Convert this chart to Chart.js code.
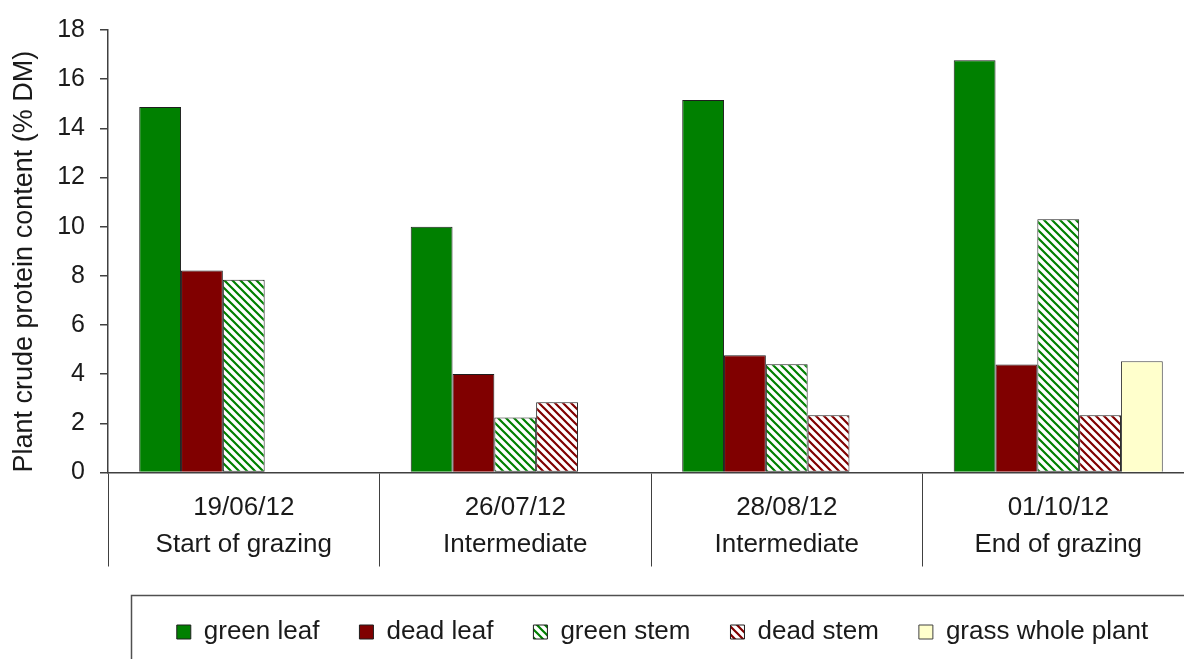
<!DOCTYPE html>
<html>
<head>
<meta charset="utf-8">
<script src="https://cdn.jsdelivr.net/npm/chart.js@4"></script>
<style>
  html, body { margin: 0; padding: 0; background: #ffffff; overflow: hidden; width: 1184px; height: 659px; }
  canvas { display: block; }
</style>
</head>
<body>
<canvas id="c" width="1325" height="659"></canvas>
<script>
// ---- data ----
const dates  = ['19/06/12', '26/07/12', '28/08/12', '01/10/12'];
const stages = ['Start of grazing', 'Intermediate', 'Intermediate', 'End of grazing'];
const seriesNames = ['green leaf', 'dead leaf', 'green stem', 'dead stem', 'grass whole plant'];
const greenLeaf  = [14.87, 10.0, 15.15, 16.77];
const deadLeaf   = [8.22, 4.01, 4.77, 4.39];
const greenStem  = [7.84, 2.24, 4.40, 10.30];
const deadStem   = [null, 2.86, 2.33, 2.33];
const grassWhole = [null, null, null, 4.53];
const yTicks = [0, 2, 4, 6, 8, 10, 12, 14, 16, 18];

// ---- helpers ----
function hatch(color) {
  const s = 8;
  const cv = document.createElement('canvas');
  cv.width = s; cv.height = s;
  const g = cv.getContext('2d');
  g.fillStyle = '#ffffff';
  g.fillRect(0, 0, s, s);
  g.strokeStyle = color;
  g.lineWidth = 2.2;
  g.beginPath();
  for (let k = -1; k <= 1; k++) {
    g.moveTo(k * s - 1, -1);
    g.lineTo(k * s + s + 1, s + 1);
  }
  g.stroke();
  return g.createPattern(cv, 'repeat');
}

const GREEN = '#008000';
const DARKRED = '#800000';
const CREAM = '#FFFFCC';
const EDGE = '#1e1e1e';
const AXIS = '#404040';
const FONT = "'Liberation Sans', Arial, sans-serif";

Chart.defaults.font.family = FONT;
Chart.defaults.color = '#1a1a1a';

const legendFrame = {
  id: 'legendFrame',
  afterDraw(chart) {
    const lg = chart.legend;
    const ctx = chart.ctx;
    ctx.save();
    ctx.strokeStyle = '#505050';
    ctx.lineWidth = 1.5;
    ctx.strokeRect(131.5, lg.top + 16.5, 1400, 200);
    ctx.restore();
  }
};

new Chart(document.getElementById('c'), {
  type: 'bar',
  data: {
    labels: dates.map((d, i) => [d, stages[i]]),
    datasets: [
      { label: seriesNames[0], data: greenLeaf,  backgroundColor: GREEN,           borderColor: EDGE, borderWidth: 1 },
      { label: seriesNames[1], data: deadLeaf,   backgroundColor: DARKRED,         borderColor: EDGE, borderWidth: 1 },
      { label: seriesNames[2], data: greenStem,  backgroundColor: hatch(GREEN),    borderColor: EDGE, borderWidth: 1, borderSkipped: false },
      { label: seriesNames[3], data: deadStem,   backgroundColor: hatch(DARKRED),  borderColor: EDGE, borderWidth: 1, borderSkipped: false },
      { label: seriesNames[4], data: grassWhole, backgroundColor: CREAM,           borderColor: '#404040', borderWidth: 1 }
    ]
  },
  options: {
    responsive: false,
    animation: false,
    devicePixelRatio: 1,
    layout: { padding: { top: 29, left: 0, right: 0, bottom: 4 } },
    datasets: { bar: { categoryPercentage: 0.77, barPercentage: 1.0 } },
    plugins: {
      tooltip: { enabled: false },
      legend: {
        position: 'bottom',
        align: 'center',
        labels: {
          boxWidth: 14,
          boxHeight: 14,
          padding: 40,
          color: '#1a1a1a',
          font: { size: 26, family: FONT }
        }
      }
    },
    scales: {
      x: {
        offset: true,
        grid: {
          offset: true,
          drawOnChartArea: false,
          drawTicks: true,
          tickLength: 94,
          color: AXIS,
          lineWidth: 1
        },
        border: { display: true, color: AXIS, width: 1.5 },
        ticks: {
          autoSkip: false,
          maxRotation: 0,
          minRotation: 0,
          padding: -77,
          color: '#1a1a1a',
          font: { size: 26, lineHeight: 1.423, family: FONT }
        },
        afterFit(s) { s.height = 106.5; }
      },
      y: {
        position: 'left',
        min: 0,
        max: 18,
        afterBuildTicks(s) { s.ticks = yTicks.map(v => ({ value: v })); },
        grid: {
          drawOnChartArea: false,
          drawTicks: true,
          tickLength: 8,
          color: AXIS,
          lineWidth: 1.5
        },
        border: { display: true, color: AXIS, width: 1.5 },
        ticks: {
          padding: 15,
          color: '#1a1a1a',
          font: { size: 25, family: FONT }
        },
        title: {
          display: true,
          text: 'Plant crude protein content (% DM)',
          align: 'start',
          color: '#1a1a1a',
          font: { size: 27, family: FONT },
          padding: { top: 8, bottom: 0 }
        },
        afterFit(s) { s.width = 108; }
      },
      yPad: {
        type: 'linear',
        position: 'right',
        display: true,
        grid: { display: false, drawTicks: false },
        border: { display: false },
        ticks: { display: false },
        afterFit(s) { s.width = 131; }
      }
    }
  },
  plugins: [legendFrame]
});
</script>
</body>
</html>
